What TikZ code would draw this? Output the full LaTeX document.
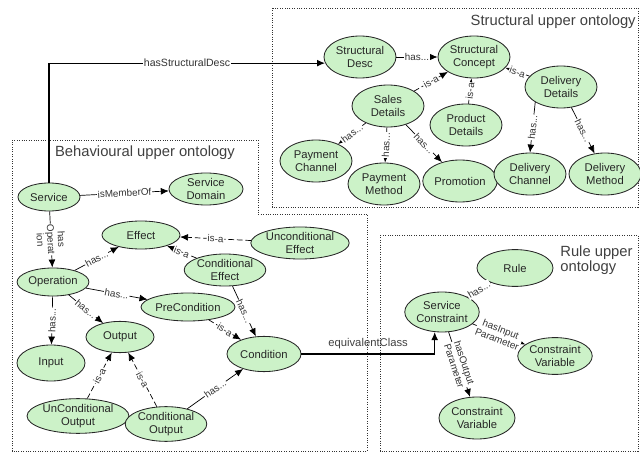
\documentclass[tikz,border=0pt]{standalone}
\usepackage{fontspec}
\setmainfont{Liberation Sans}
\usetikzlibrary{arrows.meta,shapes.geometric}
\definecolor{conceptgreen}{RGB}{204,242,200}

\tikzset{
  concept/.style={ellipse,draw=black!85,line width=0.6pt,fill=conceptgreen,align=center,
    inner sep=0.5pt,minimum width=1.7cm,minimum height=0.8cm,text=black!85,
    font=\fontsize{8}{9}\selectfont},
  tall/.style={minimum width=1.8cm,minimum height=1.05cm},
  flat/.style={minimum height=0.7cm},
  lbl/.style={fill=white,inner sep=0.6pt,sloped,text=black!80,align=center,
    font=\fontsize{7}{7.5}\selectfont},
  isa/.style={dash pattern=on 4pt off 2pt},
  box/.style={densely dotted,line width=0.7pt,draw=black!80},
  boxtitle/.style={text=black!75,font=\fontsize{10.5}{11}\selectfont,inner sep=0pt}
}

\begin{document}
\begin{tikzpicture}[x=0.025cm,y=-0.025cm,>={Latex[length=2mm,width=1.7mm]},line width=0.5pt]
  \useasboundingbox (0,0) rectangle (640,453);

  \draw[box] (272,8) rectangle (638,207);
  \draw[box] (12,140) -- (258,140) -- (258,214) -- (367,214) -- (367,451) -- (12,451) -- cycle;
  \draw[box] (380,235) rectangle (638,451);

  \node[boxtitle,anchor=east]        (stitle) at (636,22)  {Structural upper ontology};
  \node[boxtitle]                    (btitle) at (145,153) {Behavioural upper ontology};
  \node[boxtitle,anchor=north west,align=left] (rtitle) at (560,245) {Rule upper\\ontology};

  % structural
  \node[concept,tall] (sdesc)    at (360,57)  {Structural\\Desc};
  \node[concept,tall] (sconcept) at (474,57)  {Structural\\Concept};
  \node[concept,tall] (delivdet) at (561,87)  {Delivery\\Details};
  \node[concept,tall] (sales)    at (388,106) {Sales\\Details};
  \node[concept,tall] (product)  at (466,125) {Product\\Details};
  \node[concept,tall] (paychan)  at (316,161) {Payment\\Channel};
  \node[concept,tall] (paymeth)  at (384,184) {Payment\\Method};
  \node[concept,tall] (promo)    at (460,181) {Promotion};
  \node[concept,tall] (delchan)  at (530,174) {Delivery\\Channel};
  \node[concept,tall] (delmeth)  at (605,174) {Delivery\\Method};

  % behavioural
  \node[concept,flat,minimum width=1.55cm] (service) at (49,197) {Service};
  \node[concept,minimum width=1.85cm] (sdomain)   at (206,189) {Service\\Domain};
  \node[concept,flat,minimum width=1.95cm] (effect) at (141,235) {Effect};
  \node[concept] (uneffect)  at (300,243) {Unconditional\\Effect};
  \node[concept,minimum width=1.9cm] (condeffect) at (225,270) {Conditional\\Effect};
  \node[concept,flat] (operation) at (53,282)  {Operation};
  \node[concept,flat,minimum width=2.25cm] (precond) at (188,307) {PreCondition};
  \node[concept,flat,minimum height=0.78cm] (output) at (120,337) {Output};
  \node[concept,flat,minimum height=0.9cm] (input)  at (51,363)  {Input};
  \node[concept,flat,minimum width=1.85cm,minimum height=0.88cm] (condition) at (264,354) {Condition};
  \node[concept] (unoutput)   at (78,416)  {UnConditional\\Output};
  \node[concept,minimum width=1.85cm] (condoutput) at (166,424) {Conditional\\Output};

  % rule
  \node[concept,flat,minimum width=1.9cm,minimum height=0.92cm] (rule) at (515,268) {Rule};
  \node[concept,minimum width=1.85cm,minimum height=1cm] (sconstr) at (442,312) {Service\\Constraint};
  \node[concept,minimum width=1.85cm,minimum height=0.92cm] (cvarin)  at (555,356) {Constraint\\Variable};
  \node[concept,minimum width=1.9cm,minimum height=1.05cm] (cvarout) at (477,418) {Constraint\\Variable};

  \draw[->,line width=0.8pt] (service.north) |- node[fill=white,inner sep=0.6pt,pos=0.75,text=black!80,font=\fontsize{7.5}{8}\selectfont] {hasStructuralDesc} (sdesc.190);
  \draw[->,line width=0.8pt] (condition.east) -| node[above,pos=0.25,text=black!75,font=\fontsize{8}{9}\selectfont] {equivalentClass} (sconstr.250);

  \path[->]
    (sdesc)      edge              node[lbl] {has...} (sconcept)
    (sales)      edge[isa]         node[lbl] {is-a} (sconcept)
    (product)    edge[isa]         node[lbl] {is-a} (sconcept)
    (delivdet)   edge[isa]         node[lbl] {is-a} (sconcept)
    (sales)      edge              node[lbl] {has...} (paychan)
    (sales)      edge              node[lbl] {has...} (paymeth)
    (sales)      edge              node[lbl] {has...} (promo)
    (delivdet.south west) edge     node[lbl] {has...} (delchan.north)
    (delivdet)   edge              node[lbl] {has...} (delmeth)
    (service)    edge              node[lbl] {isMemberOf} (sdomain)
    (service)    edge              node[lbl] {has\\Operat\\ion} (operation)
    (operation)  edge              node[lbl] {has...} (effect)
    (uneffect)   edge[isa]         node[lbl] {is-a} (effect)
    (condeffect) edge[isa]         node[lbl] {is-a} (effect)
    (operation)  edge              node[lbl] {has...} (precond)
    (operation)  edge              node[lbl] {has...} (output)
    (operation)  edge              node[lbl] {has...} (input)
    (condeffect) edge              node[lbl] {has...} (condition)
    (precond)    edge[isa]         node[lbl] {is-a} (condition)
    (unoutput)   edge[isa]         node[lbl] {is-a} (output)
    (condoutput) edge[isa]         node[lbl] {is-a} (output)
    (condoutput) edge              node[lbl] {has...} (condition)
    (rule)       edge              node[lbl] {has...} (sconstr)
    (sconstr)    edge              node[lbl] {hasInput\\Parameter} (cvarin)
    (sconstr)    edge              node[lbl] {hasOutput\\Parameter} (cvarout);
\end{tikzpicture}
\end{document}
